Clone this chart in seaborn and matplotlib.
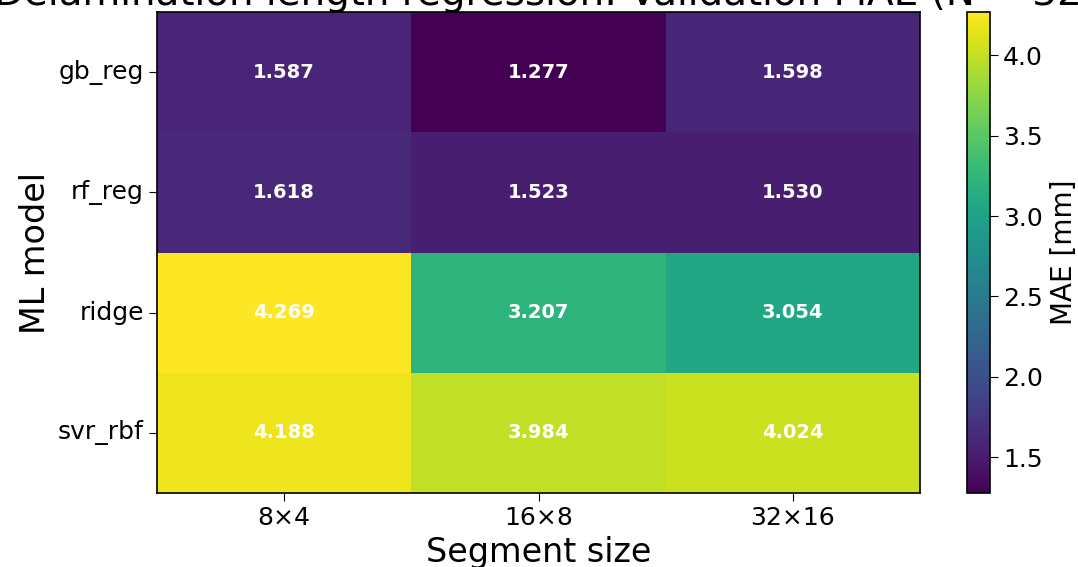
import numpy as np
import pandas as pd
import matplotlib
matplotlib.use("Agg")
import matplotlib.pyplot as plt
import seaborn as sns

models = ["gb_reg", "rf_reg", "ridge", "svr_rbf"]
segments = ["8×4", "16×8", "32×16"]
mae_8x4 = [1.587, 1.618, 4.269, 4.188]
mae_16x8 = [1.277, 1.523, 3.207, 3.984]
mae_32x16 = [1.598, 1.530, 3.054, 4.024]

df = pd.DataFrame({segments[0]: mae_8x4, segments[1]: mae_16x8, segments[2]: mae_32x16},
                  index=models)

plt.rcParams['font.family'] = ['DejaVu Sans']
fig = plt.figure(figsize=(10.78, 5.67), dpi=100)
ax = fig.add_axes([157/1078, 1 - 493/567, (920-157)/1078, (493-12)/567])
cax = fig.add_axes([967/1078, 1 - 493/567, (990-967)/1078, (493-12)/567])

sns.heatmap(df, ax=ax, cbar_ax=cax, cmap="viridis", annot=True, fmt=".3f",
            annot_kws={"color": "white", "fontweight": "bold", "fontsize": 14},
            cbar_kws={"label": "MAE [mm]"})

for s in ax.spines.values():
    s.set_visible(True)
    s.set_color("black")
    s.set_linewidth(1.2)

cbar = ax.collections[0].colorbar
cbar.outline.set_visible(True)
cbar.outline.set_edgecolor("black")
cbar.outline.set_linewidth(1.2)
cbar.ax.tick_params(labelsize=18, length=6)
cbar.set_label("MAE [mm]", fontsize=20, labelpad=5)

ax.set_xlabel("Segment size", fontsize=24)
ax.set_ylabel("ML model", fontsize=24)
ax.tick_params(axis="both", labelsize=18, length=6)
plt.setp(ax.get_yticklabels(), rotation=0)
plt.setp(ax.get_xticklabels(), rotation=0)

fig.text(545/1078, 1 - 5/567, "Delamination length regression: Validation MAE (N = 32)",
         ha="center", va="baseline", fontsize=28)

fig.savefig("out.png", dpi=100)
